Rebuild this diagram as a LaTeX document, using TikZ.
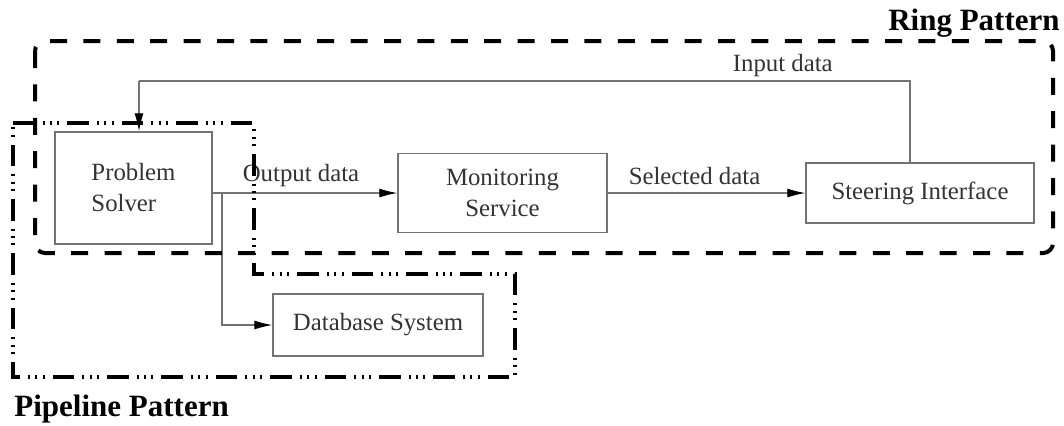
\documentclass[tikz,border=0pt]{standalone}
\usepackage{fontspec}
\setmainfont{Liberation Serif}
\usetikzlibrary{arrows.meta,positioning}

\begin{document}
\begin{tikzpicture}[x=0.5pt, y=-0.5pt, line join=miter,
  box/.style={draw=black!55, line width=0.75pt, text=black!80, inner sep=0pt,
              font=\fontsize{12.4}{15.5}\selectfont},
  flow/.style={draw=black!55, line width=0.55pt, -{Latex[length=9pt,width=4.5pt,color=black]}},
  lbl/.style={text=black!80, inner sep=1pt, font=\fontsize{12.4}{15.5}\selectfont},
  ring/.style={draw=black, line width=2pt, dash pattern=on 8.5pt off 8.2pt, rounded corners=5pt},
  pipe/.style={draw=black, line width=2pt,
               dash pattern=on 10.8pt off 4pt on 1pt off 2.7pt on 1pt off 2.7pt on 1pt off 4pt},
  title/.style={inner sep=0pt, font=\fontsize{15.5}{18}\selectfont\bfseries}]

\useasboundingbox (0,0) rectangle (1064,425);

% --- Components ---
\node[box, minimum width=78.5pt, minimum height=56pt, align=left] (solver) at (133.5,188) {Problem\\Solver};
\node[box, minimum width=104.5pt, minimum height=39.5pt, align=center] (monitor) at (502.5,193) {Monitoring\\Service};
\node[box, minimum width=114pt, minimum height=30pt] (steer) at (920,193) {Steering Interface};
\node[box, minimum width=105pt, minimum height=31pt] (dbase) at (378,325) {Database System};

% --- Data flows ---
\draw[flow] (solver.east |- monitor.west) -- node[lbl, above=2pt, xshift=-2pt] {Output data} (monitor.west);
\draw[flow] (monitor.east) -- node[lbl, above=3pt, xshift=-6pt] {Selected data} (steer.west);

\coordinate (split) at (222,193);
\draw[flow] (split) |- (dbase.west);

% Feedback loop back to the solver
\coordinate (up) at (910,81);
\coordinate (down) at (139,81);
\draw[draw=black!55, line width=0.55pt] (steer.north -| up) -- (up)
  -- node[lbl, above=1pt, pos=0.165] {Input data} (down);
\draw[flow] (down) -- (down |- solver.north);

% --- Ring pattern (dashed) ---
\draw[ring] (35,41) rectangle (1053,253);
\node[title, anchor=base east] (ringname) at (1060,30) {Ring Pattern};

% --- Pipeline pattern (dash-dot-dot-dot) ---
\draw[pipe] (13,123) -- (254,123) -- (254,274) -- (515,274) -- (515,377) -- (13,377) -- cycle;
\node[title, anchor=base west] (pipename) at (14,416) {Pipeline Pattern};

\end{tikzpicture}
\end{document}
